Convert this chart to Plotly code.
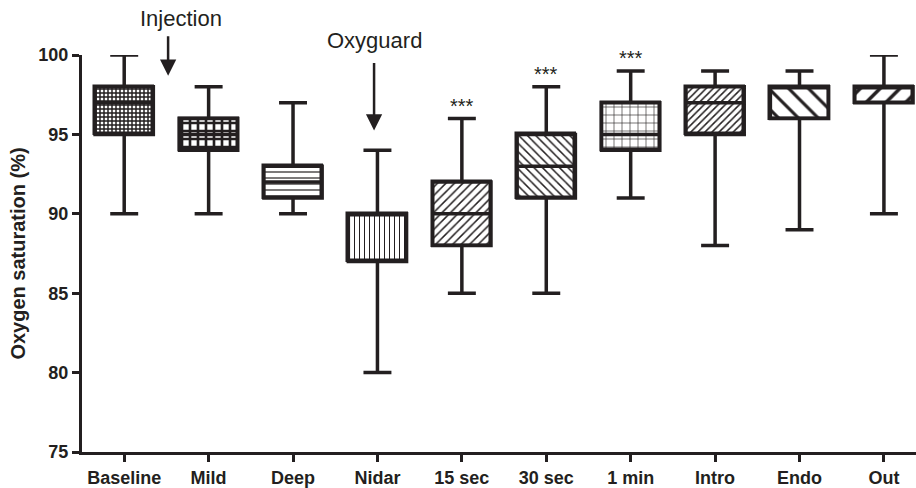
import plotly.graph_objects as go

categories = ["Baseline", "Mild", "Deep", "Nidar", "15 sec", "30 sec", "1 min", "Intro", "Endo", "Out"]
lower = [90, 90, 90, 80, 85, 85, 91, 88, 89, 90]
q1 = [95, 94, 91, 87, 88, 91, 94, 95, 96, 97]
median = [97, 95, 92, 90, 90, 93, 95, 97, 98, 98]
q3 = [98, 96, 93, 90, 92, 95, 97, 98, 98, 98]
upper = [100, 98, 97, 94, 96, 98, 99, 99, 99, 100]
significant = [False, False, False, False, True, True, True, False, False, False]
y_ticks = [75, 80, 85, 90, 95, 100]

INK = "#231f20"
FONT = "Arial, 'Liberation Sans', sans-serif"
idx = list(range(len(categories)))

shapes = ["+", "+", "-", "|", "/", "\\", "+", "/", "\\", "/"]
sizes = [4, 8, 6, 5, 6, 6, 8, 5, 14, 14]
solid = [0.6, 0.55, 0.2, 0.2, 0.25, 0.25, 0.15, 0.3, 0.22, 0.25]

fig = go.Figure()
fig.add_trace(go.Bar(
    x=idx, base=q1, y=[b - a for a, b in zip(q1, q3)], width=0.69,
    marker=dict(color="white", line=dict(color=INK, width=3.5),
                pattern=dict(shape=shapes, size=sizes, solidity=solid,
                             fgcolor=INK, bgcolor="white", fgopacity=1, fillmode="replace")),
    showlegend=False, hoverinfo="skip",
))
fig.add_trace(go.Box(
    x=idx, q1=q1, median=median, q3=q3, lowerfence=lower, upperfence=upper,
    width=0.69, whiskerwidth=0.48, fillcolor="rgba(0,0,0,0)",
    line=dict(color=INK, width=3.5), showlegend=False, boxpoints=False,
))

annotations = []
for i, s in enumerate(significant):
    if s:
        annotations.append(dict(x=idx[i], y=upper[i], xref="x", yref="y", text="***",
                                showarrow=False, yanchor="bottom", yshift=0,
                                font=dict(family=FONT, size=20, color=INK)))
# Injection
annotations.append(dict(x=0.675, y=1.0925, xref="x", yref="paper", text="Injection", showarrow=False,
                        xanchor="center", yanchor="middle",
                        font=dict(family=FONT, size=22, color=INK)))
annotations.append(dict(x=0.52, y=98.69, xref="x", yref="y", text="", showarrow=True,
                        ax=0, ay=-41, arrowhead=2, arrowsize=1.3, arrowwidth=2.5, arrowcolor=INK))
# Oxyguard
annotations.append(dict(x=2.97, y=1.0375, xref="x", yref="paper", text="Oxyguard", showarrow=False,
                        xanchor="center", yanchor="middle",
                        font=dict(family=FONT, size=22, color=INK)))
annotations.append(dict(x=2.96, y=95.25, xref="x", yref="y", text="", showarrow=True,
                        ax=0, ay=-69, arrowhead=2, arrowsize=1.3, arrowwidth=2.5, arrowcolor=INK))

fig.update_layout(
    width=916, height=488, margin=dict(l=82, r=0, t=55, b=33),
    paper_bgcolor="white", plot_bgcolor="white",
    annotations=annotations, bargap=0,
    xaxis=dict(range=[-0.5, 9.38], tickvals=idx, ticktext=categories,
               showline=True, linewidth=3, linecolor=INK, ticks="outside",
               ticklen=7, tickwidth=3, tickcolor=INK, showgrid=False, zeroline=False,
               tickfont=dict(family=FONT, size=18, color=INK, weight="bold")),
    yaxis=dict(range=[75, 100], tickvals=y_ticks, showline=True, linewidth=3, linecolor=INK,
               ticks="outside", ticklen=7, tickwidth=3, tickcolor=INK, showgrid=False,
               zeroline=False,
               tickfont=dict(family=FONT, size=18, color=INK, weight="bold"),
               title=dict(text="Oxygen saturation (%)", standoff=8,
                          font=dict(family=FONT, size=20, color=INK, weight="bold"))),
)

fig.write_html("out.html")
